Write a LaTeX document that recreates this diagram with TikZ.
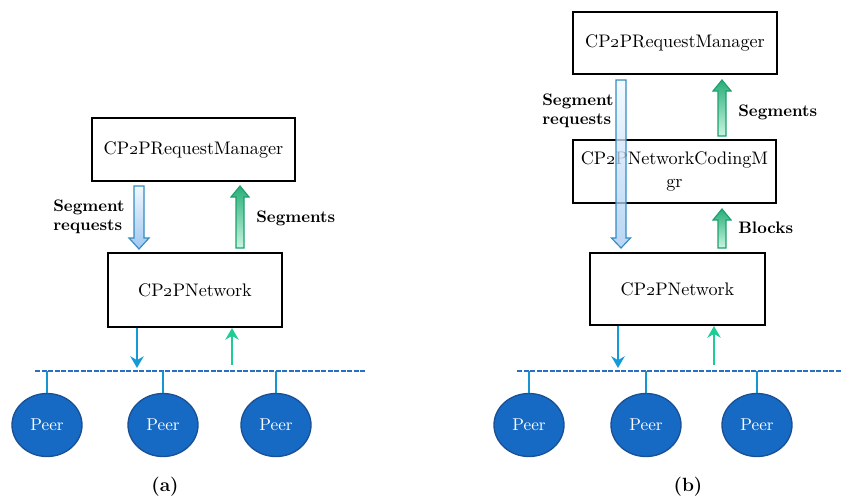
\documentclass[tikz,border=0pt]{standalone}
\usetikzlibrary{arrows.meta,shapes.geometric,calc}
\definecolor{busblue}{RGB}{40,112,196}
\definecolor{peerfill}{RGB}{22,106,196}
\definecolor{peerline}{RGB}{25,80,150}
\definecolor{arrblue}{RGB}{20,155,215}
\definecolor{arrgreen}{RGB}{30,205,150}
\definecolor{stubblue}{RGB}{20,150,210}
\definecolor{gtop}{RGB}{40,175,120}
\definecolor{gbot}{RGB}{200,245,225}
\definecolor{gline}{RGB}{30,160,110}
\definecolor{btop}{RGB}{240,248,255}
\definecolor{bbot}{RGB}{160,200,240}
\definecolor{bline}{RGB}{50,140,195}
\newcommand\pxl[1]{#1*0.6pt}
\newcommand\tw{\oldstylenums{2}}
% x, ytop, yheadbase, ytip, shaft half, head half
\newcommand\fatdown[7][]{%
  \shadedraw[downblk,#1] (#2-#6,#3) -- (#2+#6,#3) -- (#2+#6,#4) -- (#2+#7,#4) -- (#2,#5) -- (#2-#7,#4) -- (#2-#6,#4) -- cycle;}
% x, ybottom, yheadbase, ytip, shaft half, head half
\newcommand\fatup[6]{%
  \shadedraw[upblk] (#1-#5,#2) -- (#1+#5,#2) -- (#1+#5,#3) -- (#1+#6,#3) -- (#1,#4) -- (#1-#6,#3) -- (#1-#5,#3) -- cycle;}
\begin{document}
\begin{tikzpicture}[x=0.6pt,y=-0.6pt,
  box/.style={draw,line width=1.2pt,inner sep=2pt,align=center,font=\fontsize{10.9}{14}\selectfont},
  peer/.style={ellipse,draw=peerline,line width=0.8pt,fill=peerfill,text=white,
    minimum width=\pxl{70},minimum height=\pxl{63},inner sep=0pt,font=\fontsize{10.3}{12}\selectfont},
  lbl/.style={font=\bfseries\fontsize{10}{11.5}\selectfont,align=left,inner sep=0pt},
  captext/.style={font=\bfseries\fontsize{11.5}{13}\selectfont,inner sep=0pt},
  bus/.style={draw=busblue,line width=1.5pt,dash pattern=on 3pt off 0.9pt},
  stub/.style={draw=stubblue,line width=1.4pt},
  dnarr/.style={draw=arrblue,line width=1.6pt,-{Stealth[length=7pt,width=8pt]}},
  uparr/.style={draw=arrgreen,line width=1.6pt,-{Stealth[length=7pt,width=8pt]}},
  downblk/.style={draw=bline,line width=0.7pt,top color=btop,bottom color=bbot},
  upblk/.style={draw=gline,line width=0.7pt,top color=gtop,bottom color=gbot}]
\useasboundingbox (0,0) rectangle (841,498);

% ---------- (a) ----------
\node[box,minimum width=\pxl{203},minimum height=\pxl{63}] (rmA) at (193.5,149.5) {CP\tw PRequestManager};
\node[box,minimum width=\pxl{174},minimum height=\pxl{74}] (netA) at (195,290) {CP\tw PNetwork};
\fatdown{139}{186}{238}{249}{5}{10}
\fatup{240}{248}{197}{186}{4}{9}
\node[lbl,anchor=west] (lsrA) at (53,217) {Segment\\requests};
\node[lbl,anchor=west] (lsA) at (256,218) {Segments};

\coordinate (busAL) at (35,371);
\coordinate (busAR) at (365,371);
\draw[bus] (busAL) -- (busAR);
\coordinate (dA) at (137,368);
\coordinate (uA) at (232,365);
\draw[dnarr] (dA |- netA.south) -- (dA);
\draw[uparr] (uA) -- (uA |- netA.south);
\node[peer] (pA1) at (47,425) {Peer};
\node[peer] (pA2) at (163,425) {Peer};
\node[peer] (pA3) at (276,425) {Peer};
\foreach \p in {pA1,pA2,pA3} \draw[stub] (\p.north) -- (\p.north |- busAL);
\node[captext] (capA) at (165,487) {(a)};

% ---------- (b) ----------
\node[box,minimum width=\pxl{204},minimum height=\pxl{62}] (rmB) at (675,43) {CP\tw PRequestManager};
\node[box,minimum width=\pxl{203},minimum height=\pxl{63}] (codB) at (674.5,171.5) {CP\tw PNetworkCodingM\\gr};
\node[box,minimum width=\pxl{175},minimum height=\pxl{72}] (netB) at (677.5,289) {CP\tw PNetwork};
\fatdown[fill opacity=0.75]{621}{80}{238}{248}{5}{9.5}
\fatup{722}{136}{91}{80}{4}{9}
\fatup{722}{248}{220}{209}{4}{9}
\node[lbl,anchor=west] (lsrB) at (542,111) {Segment\\requests};
\node[lbl,anchor=west] (lsB) at (738,112) {Segments};
\node[lbl,anchor=west] (lbB) at (738,228) {Blocks};

\coordinate (busBL) at (517,371);
\coordinate (busBR) at (841,371);
\draw[bus] (busBL) -- (busBR);
\coordinate (dB) at (618,368);
\coordinate (uB) at (714,365);
\draw[dnarr] (dB |- netB.south) -- (dB);
\draw[uparr] (uB) -- (uB |- netB.south);
\node[peer] (pB1) at (529,425) {Peer};
\node[peer] (pB2) at (646,425) {Peer};
\node[peer] (pB3) at (757,425) {Peer};
\foreach \p in {pB1,pB2,pB3} \draw[stub] (\p.north) -- (\p.north |- busBL);
\node[captext] (capB) at (688,487) {(b)};
\end{tikzpicture}
\end{document}
